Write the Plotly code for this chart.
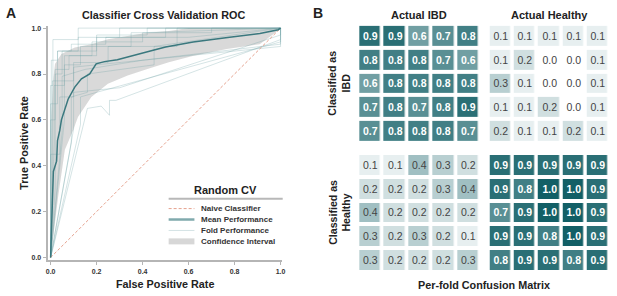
import plotly.graph_objects as go

# ---------------- data ----------------
mean_fpr = [0, 0.012, 0.026, 0.03, 0.04, 0.047, 0.076, 0.105, 0.134, 0.17, 0.198, 0.234,
            0.29, 0.378, 0.45, 0.50, 0.62, 0.77, 0.91, 0.99, 1.0]
mean_tpr = [0, 0.375, 0.42, 0.51, 0.555, 0.60, 0.69, 0.743, 0.779, 0.80, 0.844, 0.854,
            0.862, 0.887, 0.905, 0.918, 0.94, 0.959, 0.977, 0.993, 1.0]

upper_fpr = [0, 0.004, 0.012, 0.019, 0.047, 0.105, 0.177, 0.249, 0.335, 0.421, 0.514, 0.6, 1.0]
upper_tpr = [0, 0.62, 0.78, 0.844, 0.887, 0.916, 0.93, 0.952, 0.966, 0.98, 0.987, 1.0, 1.0]
lower_fpr = [0, 0.033, 0.062, 0.098, 0.119, 0.177, 0.249, 0.335, 0.421, 0.514, 0.622,
             0.766, 0.909, 0.99, 1.0]
lower_tpr = [0, 0.267, 0.47, 0.555, 0.613, 0.70, 0.757, 0.793, 0.822, 0.851, 0.88,
             0.909, 0.93, 0.99, 1.0]

fold_fpr = [
    [0, 0, 0.02, 0.02, 0.05, 0.05, 0.12, 0.12, 0.3, 0.3, 1.0],
    [0, 0, 0.04, 0.04, 0.1, 0.1, 0.25, 0.25, 0.55, 0.55, 1.0],
    [0, 0.015, 0.015, 0.06, 0.06, 0.18, 0.18, 0.4, 0.4, 1.0],
    [0, 0.16, 0.22, 0.256, 0.256, 0.284, 1.0, 1.0],
    [0, 0.1, 0.1, 0.3, 1.0, 1.0],
    [0, 0.02, 0.02, 0.08, 0.08, 0.2, 0.2, 0.5, 0.5, 1.0],
    [0, 0.05, 0.05, 0.15, 0.4, 1.0, 1.0],
    [0, 0, 0.03, 0.03, 0.2, 0.2, 0.42, 0.42, 1.0],
    [0, 0.008, 0.008, 0.1, 0.1, 0.3, 1.0, 1.0],
    [0, 0.06, 0.06, 0.13, 0.13, 0.35, 0.35, 0.7, 0.7, 1.0],
    [0, 0.003, 0.003, 0.03, 0.03, 0.09, 0.09, 0.24, 0.24, 0.6, 1.0],
    [0, 0.09, 0.09, 0.16, 0.16, 0.45, 0.45, 1.0],
    [0, 0, 0.01, 0.01, 0.12, 0.12, 1.0],
    [0, 0.13, 0.13, 0.2, 1.0, 1.0],
]
fold_tpr = [
    [0, 0.6, 0.6, 0.8, 0.8, 0.9, 0.9, 0.96, 0.96, 1.0, 1.0],
    [0, 0.45, 0.45, 0.7, 0.7, 0.85, 0.85, 0.92, 0.92, 1.0, 1.0],
    [0, 0.5, 0.75, 0.75, 0.88, 0.88, 0.94, 0.94, 0.98, 1.0],
    [0, 0.65, 0.66, 0.62, 0.685, 0.685, 0.95, 1.0],
    [0, 0.56, 0.72, 0.74, 0.97, 1.0],
    [0, 0.3, 0.82, 0.82, 0.88, 0.88, 0.96, 0.96, 1.0, 1.0],
    [0, 0.55, 0.79, 0.82, 0.86, 0.93, 1.0],
    [0, 0.67, 0.67, 0.9, 0.9, 0.97, 0.97, 1.0, 1.0],
    [0, 0.4, 0.77, 0.77, 0.83, 0.85, 0.92, 1.0],
    [0, 0.6, 0.84, 0.84, 0.92, 0.92, 0.98, 0.98, 1.0, 1.0],
    [0, 0.2, 0.86, 0.86, 0.9, 0.9, 0.93, 0.93, 0.96, 0.96, 1.0],
    [0, 0.5, 0.7, 0.72, 0.8, 0.84, 0.92, 1.0],
    [0, 0.75, 0.75, 0.95, 0.95, 1.0, 1.0],
    [0, 0.58, 0.7, 0.72, 0.94, 1.0],
]

naive = [0, 1]
roc_ticks = [0.0, 0.2, 0.4, 0.6, 0.8, 1.0]

ibd_as_ibd = [[0.9, 0.9, 0.6, 0.7, 0.8],
              [0.8, 0.8, 0.8, 0.7, 0.6],
              [0.6, 0.8, 0.8, 0.8, 0.8],
              [0.7, 0.8, 0.7, 0.8, 0.9],
              [0.7, 0.8, 0.8, 0.8, 0.7]]
healthy_as_ibd = [[0.1, 0.1, 0.1, 0.1, 0.1],
                  [0.1, 0.2, 0.0, 0.0, 0.1],
                  [0.3, 0.1, 0.0, 0.0, 0.1],
                  [0.1, 0.1, 0.2, 0.0, 0.1],
                  [0.2, 0.1, 0.1, 0.2, 0.1]]
ibd_as_healthy = [[0.1, 0.1, 0.4, 0.3, 0.2],
                  [0.2, 0.2, 0.2, 0.3, 0.4],
                  [0.4, 0.2, 0.2, 0.2, 0.2],
                  [0.3, 0.2, 0.3, 0.2, 0.1],
                  [0.3, 0.2, 0.2, 0.2, 0.3]]
healthy_as_healthy = [[0.9, 0.9, 0.9, 0.9, 0.9],
                      [0.9, 0.8, 1.0, 1.0, 0.9],
                      [0.7, 0.9, 1.0, 1.0, 0.9],
                      [0.9, 0.9, 0.8, 1.0, 0.9],
                      [0.8, 0.9, 0.9, 0.8, 0.9]]

col_labels = ["Actual IBD", "Actual Healthy"]
row_labels = ["Classified as<br>IBD", "Classified as<br>Healthy"]
legend_labels = ["Naive Classifier", "Mean Performance", "Fold Performance", "Confidence Interval"]

# ---------------- styles ----------------
FONT = "Liberation Sans, Arial, Helvetica, sans-serif"
W, H = 617, 296
def px(x): return x / W
def py(y): return (H - y) / H

TEAL = "rgb(58,120,126)"
FOLD = "rgba(110,160,165,0.32)"
BAND = "rgba(150,150,150,0.36)"
NAIVE = "rgb(226,150,128)"

fig = go.Figure()

# confidence band
fig.add_trace(go.Scatter(x=upper_fpr + lower_fpr[::-1], y=upper_tpr + lower_tpr[::-1],
                         fill="toself", fillcolor=BAND, line=dict(width=0),
                         mode="lines", hoverinfo="skip", showlegend=False))
# folds
for fx, fy in zip(fold_fpr, fold_tpr):
    fig.add_trace(go.Scatter(x=fx, y=fy, mode="lines", line=dict(color=FOLD, width=0.9),
                             hoverinfo="skip", showlegend=False))
# naive
fig.add_trace(go.Scatter(x=naive, y=naive, mode="lines",
                         line=dict(color=NAIVE, width=0.9, dash="3px,2px"),
                         hoverinfo="skip", showlegend=False))
# mean
fig.add_trace(go.Scatter(x=mean_fpr, y=mean_tpr, mode="lines",
                         line=dict(color=TEAL, width=1.5), hoverinfo="skip", showlegend=False))

axis_common = dict(showgrid=False, zeroline=False, showline=True, linecolor="#b5b5b5",
                   linewidth=2, ticks="outside", ticklen=3, tickwidth=1, tickcolor="#b5b5b5",
                   tickvals=roc_ticks, ticktext=[f"{t:.1f}" for t in roc_ticks],
                   tickfont=dict(family=FONT, size=7, color="#333", weight="bold"))
fig.update_layout(
    xaxis=dict(domain=[px(46), px(282.7)], range=[-0.013, 1.008], anchor="y", **axis_common),
    yaxis=dict(domain=[py(261), py(25)], range=[-0.012, 1.01], anchor="x", **axis_common),
)

# heatmaps
cs = [[0, "rgb(255,255,255)"], [1, "rgb(18,95,102)"]]
blocks = [
    (ibd_as_ibd, "x2", "y2", (359.2, 482.1), (23, 142.7), "white", "bold"),
    (healthy_as_ibd, "x3", "y3", (490.7, 612.8), (23, 142.7), "#444444", "normal"),
    (ibd_as_healthy, "x4", "y4", (359.2, 482.1), (153, 272.7), "#444444", "normal"),
    (healthy_as_healthy, "x5", "y5", (490.7, 612.8), (153, 272.7), "white", "bold"),
]
for i, (z, xa, ya, (xl, xr), (yt, yb), tc, tw) in enumerate(blocks):
    fig.add_trace(go.Heatmap(z=z, xaxis=xa, yaxis=ya, colorscale=cs, zmin=0, zmax=1,
                             showscale=False, xgap=3.6, ygap=4, texttemplate="%{z:.1f}",
                             textfont=dict(family=FONT, size=10.5, color=tc, weight=tw),
                             hoverinfo="skip"))
    n = i + 2
    fig.layout[f"xaxis{n}"] = dict(domain=[px(xl), px(xr)], visible=False, anchor=ya,
                                   range=[-0.5, 4.5])
    fig.layout[f"yaxis{n}"] = dict(domain=[py(yb), py(yt)], visible=False, anchor=xa,
                                   range=[4.5, -0.5])

ann = []
def text(x, y, s, size, weight="bold", color="#222", xanchor="center", angle=0):
    ann.append(dict(x=px(x), y=py(y), xref="paper", yref="paper", text=s, showarrow=False,
                    xanchor=xanchor, yanchor="middle", textangle=angle,
                    font=dict(family=FONT, size=size, color=color, weight=weight)))

text(9, 12, "A", 14)
text(319, 12, "B", 14)
text(163, 14, "Classifier Cross Validation ROC", 10.8)
text(164, 285, "False Positive Rate", 10.8)
text(22, 143, "True Positive Rate", 10.8, angle=-90)
text(420.7, 14, col_labels[0], 11)
text(551.7, 14, col_labels[1], 11)
text(486, 286, "Per-fold Confusion Matrix", 10.8)
text(340, 83, row_labels[0], 10.6, angle=-90)
text(340, 213, row_labels[1], 10.6, angle=-90)

# legend
text(225.5, 190, "Random CV", 11)
leg_y = [209, 220, 231, 242]
for lab, yy in zip(legend_labels, leg_y):
    text(199, yy, lab, 8, color="#333", xanchor="left")

shapes = [dict(type="line", xref="paper", yref="paper", x0=px(168), x1=px(283),
               y0=py(199), y1=py(199), line=dict(color="#b8b8b8", width=2))]
leg_styles = [dict(color=NAIVE, width=0.9, dash="3px,2px"),
              dict(color="rgb(128,170,173)", width=2.5),
              dict(color="rgba(110,160,165,0.3)", width=1),
              dict(color="rgb(215,215,215)", width=6)]
for st, yy in zip(leg_styles, leg_y):
    shapes.append(dict(type="line", xref="paper", yref="paper", x0=px(168), x1=px(194),
                       y0=py(yy), y1=py(yy), line=st))

fig.update_layout(width=W, height=H, margin=dict(l=0, r=0, t=0, b=0),
                  paper_bgcolor="white", plot_bgcolor="white", showlegend=False,
                  annotations=ann, shapes=shapes)

fig.write_html("out.html", config={"displayModeBar": False},
               post_script="document.body.style.margin='0';document.body.style.overflow='hidden';")
